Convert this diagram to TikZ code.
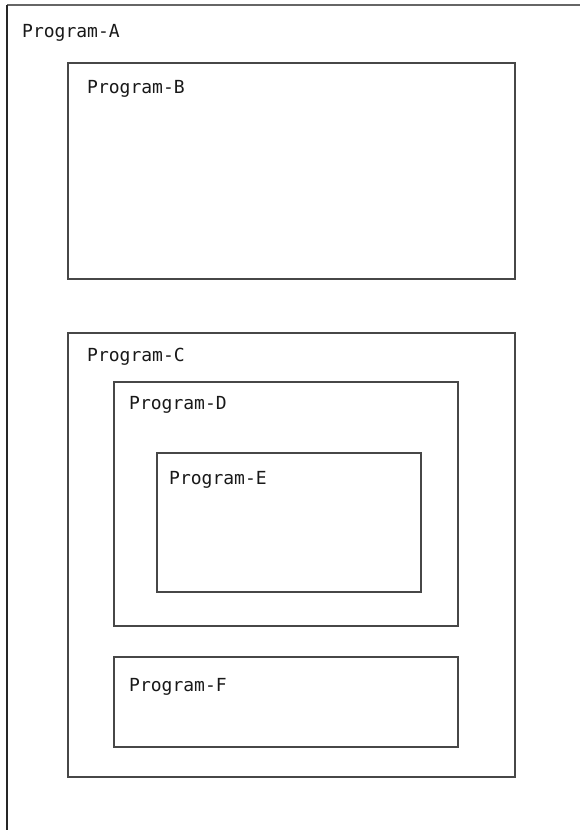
\documentclass[tikz,border=0pt]{standalone}
\usepackage{fontspec}
\newfontfamily\progfont{DejaVu Sans Mono}
\begin{document}
\begin{tikzpicture}[x=1pt,y=-1pt,
  progbox/.style={draw=black!72, line width=1.8pt},
  proglabel/.style={anchor=base west, inner sep=0pt, font=\progfont\fontsize{18}{21}\selectfont, text=black!90}]
\useasboundingbox (0,0) rectangle (580,830);
\fill[white] (0,0) rectangle (580,830);
% outer Program-A frame (open at right and bottom)
\coordinate (abl) at (7,830);
\coordinate (atl) at (7,5);
\coordinate (atr) at (580,5);
\draw[black!60, line width=2pt] (atl) -- (atr);
\draw[black!85, line width=1.8pt] (abl) -- (atl);
\node[proglabel] (la) at (22,37) {Program-A};
% boxes
\node[progbox, minimum width=447pt, minimum height=216pt, inner sep=0pt, anchor=north west] (b) at (67,62) {};
\node[progbox, minimum width=447pt, minimum height=444pt, inner sep=0pt, anchor=north west] (c) at (67,332) {};
\node[progbox, minimum width=344pt, minimum height=244pt, inner sep=0pt, anchor=north west] (d) at (113,381) {};
\node[progbox, minimum width=264pt, minimum height=139pt, inner sep=0pt, anchor=north west] (e) at (156,452) {};
\node[progbox, minimum width=344pt, minimum height=90pt, inner sep=0pt, anchor=north west] (f) at (113,656) {};
% labels
\node[proglabel] (lb) at (87,93) {Program-B};
\node[proglabel] (lc) at (87,361) {Program-C};
\node[proglabel] (ld) at (129,409) {Program-D};
\node[proglabel] (le) at (169,484) {Program-E};
\node[proglabel] (lf) at (129,691) {Program-F};
\end{tikzpicture}
\end{document}
